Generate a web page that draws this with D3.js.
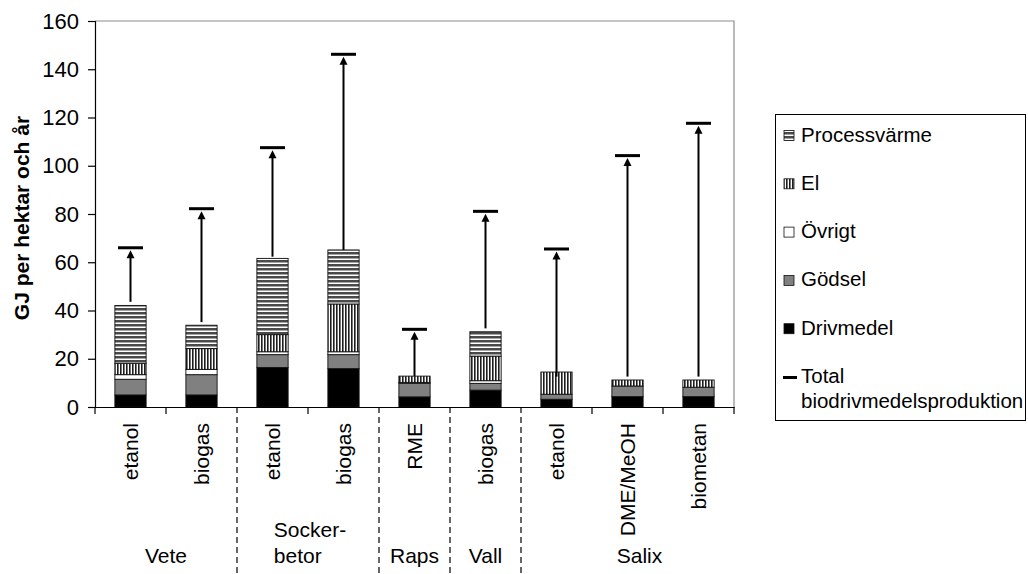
<!DOCTYPE html>
<html>
<head>
<meta charset="utf-8">
<script src="https://cdn.jsdelivr.net/npm/d3@7"></script>
<style>
  html, body { margin: 0; padding: 0; background: #fff; }
  svg { display: block; font-family: "Liberation Sans", Arial, sans-serif; }
</style>
</head>
<body>
<svg id="chart" width="1028" height="574"></svg>
<script>
// ---------------- data ----------------
const categories = ["etanol", "biogas", "etanol", "biogas", "RME", "biogas", "etanol", "DME/MeOH", "biometan"];
const groupNames = [["Vete"], ["Socker-", "betor"], ["Raps"], ["Vall"], ["Salix"]];
const groupSizes = [2, 2, 1, 1, 3];

const drivmedel    = [5.0, 5.0, 16.4, 15.9, 4.2, 7.0, 3.2, 4.3, 4.3];
const godsel       = [6.5, 8.4, 5.3, 5.8, 5.6, 2.8, 2.1, 4.4, 3.9];
const ovrigt       = [1.9, 2.2, 1.2, 1.2, 0.4, 1.1, 0.0, 0.0, 0.0];
const el           = [4.7, 8.6, 7.1, 19.8, 2.6, 10.2, 9.2, 2.5, 3.0];
const processvarme = [24.0, 9.7, 31.6, 22.4, 0.0, 10.1, 0.0, 0.0, 0.0];
const total        = [66.0, 82.2, 107.5, 146.2, 32.2, 81.1, 65.5, 104.2, 117.6];
const arrowFrom    = [43.6, 35.2, 62.3, 65.1, 12.8, 32.6, 12.6, 12.6, 12.6];

const yTicks = [0, 20, 40, 60, 80, 100, 120, 140, 160];
const yTitle = "GJ per hektar och år";
const seriesKeys = ["Drivmedel", "Gödsel", "Övrigt", "El", "Processvärme"];
const legendOrder = ["Processvärme", "El", "Övrigt", "Gödsel", "Drivmedel", "Total"];
const legendLabels = {
  "Processvärme": ["Processvärme"], "El": ["El"], "Övrigt": ["Övrigt"],
  "Gödsel": ["Gödsel"], "Drivmedel": ["Drivmedel"], "Total": ["Total", "biodrivmedelsproduktion"]
};

// ---------------- setup ----------------
const svg = d3.select("#chart");
const W = 1028, H = 574;
const plot = { left: 95, right: 734, top: 21, bottom: 407 };
const FS = 21;
const FSL = 20.5;

const defs = svg.append("defs");
const ph = defs.append("pattern").attr("id", "hstripe").attr("patternUnits", "userSpaceOnUse")
  .attr("width", 4).attr("height", 4);
ph.append("rect").attr("width", 4).attr("height", 4).attr("fill", "#fff");
ph.append("rect").attr("width", 4).attr("height", 2.5).attr("fill", "#4a4a4a");
const pv = defs.append("pattern").attr("id", "vstripe").attr("patternUnits", "userSpaceOnUse")
  .attr("width", 3).attr("height", 3);
pv.append("rect").attr("width", 3).attr("height", 3).attr("fill", "#fff");
pv.append("rect").attr("width", 1.6).attr("height", 3).attr("fill", "#1e1e1e");

const fills = {
  "Drivmedel": "#000000", "Gödsel": "#808080", "Övrigt": "#ffffff",
  "El": "url(#vstripe)", "Processvärme": "url(#hstripe)"
};

const rows = categories.map((c, i) => ({
  i,
  "Drivmedel": drivmedel[i], "Gödsel": godsel[i], "Övrigt": ovrigt[i],
  "El": el[i], "Processvärme": processvarme[i]
}));

const x = d3.scaleBand().domain(d3.range(categories.length))
  .range([plot.left, plot.right]).paddingInner(0.56).paddingOuter(0.28);
const y = d3.scaleLinear().domain([0, 160]).range([plot.bottom, plot.top]);
const step = x.step();
const boundary = k => plot.left + k * step;

// plot area border (top/right grey)
svg.append("path")
  .attr("d", `M${plot.left},${plot.top}H${plot.right}V${plot.bottom}`)
  .attr("fill", "none").attr("stroke", "#8c8c8c").attr("stroke-width", 1.2);

// stacked bars
const stacked = d3.stack().keys(seriesKeys)(rows);
const gBars = svg.append("g");
stacked.forEach(s => {
  gBars.selectAll(null).data(s.filter(d => d[1] - d[0] > 0)).enter().append("rect")
    .attr("x", d => x(d.data.i))
    .attr("width", x.bandwidth())
    .attr("y", d => y(d[1]))
    .attr("height", d => y(d[0]) - y(d[1]))
    .attr("fill", fills[s.key])
    .attr("stroke", "#111").attr("stroke-width", 0.9);
});

// arrows and totals
const gArr = svg.append("g");
const cx = i => x(i) + x.bandwidth() / 2;
categories.forEach((c, i) => {
  const capY = y(total[i]);
  const tipY = capY + 2.5;
  gArr.append("line")
    .attr("x1", cx(i)).attr("x2", cx(i))
    .attr("y1", y(arrowFrom[i])).attr("y2", tipY + 6)
    .attr("stroke", "#000").attr("stroke-width", 2);
  gArr.append("path")
    .attr("d", `M${cx(i)},${tipY}L${cx(i) - 4},${tipY + 8}L${cx(i) + 4},${tipY + 8}Z`)
    .attr("fill", "#000");
  gArr.append("line")
    .attr("x1", cx(i) - 12.5).attr("x2", cx(i) + 12.5)
    .attr("y1", capY).attr("y2", capY)
    .attr("stroke", "#000").attr("stroke-width", 3);
});

// y axis
const yAxis = svg.append("g").attr("transform", `translate(${plot.left},0)`)
  .call(d3.axisLeft(y).tickValues(yTicks).tickSize(7).tickPadding(9));
yAxis.select(".domain").attr("stroke", "#000").attr("stroke-width", 1.2);
yAxis.selectAll(".tick line").attr("stroke", "#000").attr("stroke-width", 1.2);
yAxis.selectAll(".tick text").attr("font-size", FS + 1).attr("font-family", "Liberation Sans, Arial").attr("fill", "#000");

// x axis
const xAxis = svg.append("g").attr("transform", `translate(0,${plot.bottom})`)
  .call(d3.axisBottom(x).tickSize(0).tickFormat(i => categories[i]));
xAxis.select(".domain").attr("stroke", "#000").attr("stroke-width", 1.2);
xAxis.selectAll(".tick text")
  .attr("font-size", FS).attr("font-family", "Liberation Sans, Arial").attr("fill", "#000")
  .attr("transform", "rotate(-90)")
  .attr("text-anchor", "end")
  .attr("x", -16).attr("y", 0).attr("dy", "0.36em");

// category boundaries: solid ticks inside groups, dashed at group boundaries
const groupEnds = [];
let acc = 0;
groupSizes.forEach(n => { acc += n; groupEnds.push(acc); });
for (let k = 0; k <= categories.length; k++) {
  const bx = boundary(k);
  const isGroup = k > 0 && k < categories.length && groupEnds.includes(k);
  if (isGroup) {
    svg.append("line").attr("x1", bx).attr("x2", bx)
      .attr("y1", plot.bottom).attr("y2", H)
      .attr("stroke", "#000").attr("stroke-width", 1.2).attr("stroke-dasharray", "6,4");
  } else {
    svg.append("line").attr("x1", bx).attr("x2", bx)
      .attr("y1", plot.bottom).attr("y2", plot.bottom + 7)
      .attr("stroke", "#000").attr("stroke-width", 1.2);
  }
}

// group labels
let start = 0;
groupNames.forEach((lines, g) => {
  const gx0 = boundary(start), gx1 = boundary(start + groupSizes[g]);
  let gcx = (gx0 + gx1) / 2;
  if (g === groupNames.length - 1) gcx += 12;
  start += groupSizes[g];
  const t = svg.append("text").attr("font-size", FS).attr("fill", "#000");
  const n = lines.length;
  lines.forEach((ln, j) => {
    t.append("tspan").attr("x", gcx).attr("y", 563 - (n - 1 - j) * 26).text(ln);
  });
  if (n === 1) {
    t.attr("text-anchor", "middle");
  } else {
    // left-aligned block centred on the group
    const wmax = d3.max(t.selectAll("tspan").nodes(), nd => nd.getComputedTextLength());
    t.selectAll("tspan").attr("x", gcx - wmax / 2 + 2);
  }
});

// y title
svg.append("text")
  .attr("transform", `translate(29,${(plot.top + plot.bottom) / 2 + 4}) rotate(-90)`)
  .attr("text-anchor", "middle").attr("font-size", FS).attr("font-weight", "bold")
  .attr("fill", "#000").text(yTitle);

// legend
const lg = svg.append("g");
lg.append("rect").attr("x", 775.5).attr("y", 114.5).attr("width", 250).attr("height", 306)
  .attr("fill", "#fff").attr("stroke", "#000").attr("stroke-width", 1);
legendOrder.forEach((k, j) => {
  const by = 141.5 + j * 48.3;
  if (k === "Total") {
    lg.append("line").attr("x1", 783).attr("x2", 797).attr("y1", by - 5.5).attr("y2", by - 5.5)
      .attr("stroke", "#000").attr("stroke-width", 3);
  } else {
    lg.append("rect").attr("x", 784).attr("y", by - 11).attr("width", 10).attr("height", 10)
      .attr("fill", fills[k]).attr("stroke", "#111").attr("stroke-width", 0.8);
  }
  const t = lg.append("text").attr("font-size", FSL).attr("fill", "#000");
  legendLabels[k].forEach((ln, m) => {
    t.append("tspan").attr("x", 801).attr("y", by + m * 25).text(ln);
  });
});
</script>
</body>
</html>
